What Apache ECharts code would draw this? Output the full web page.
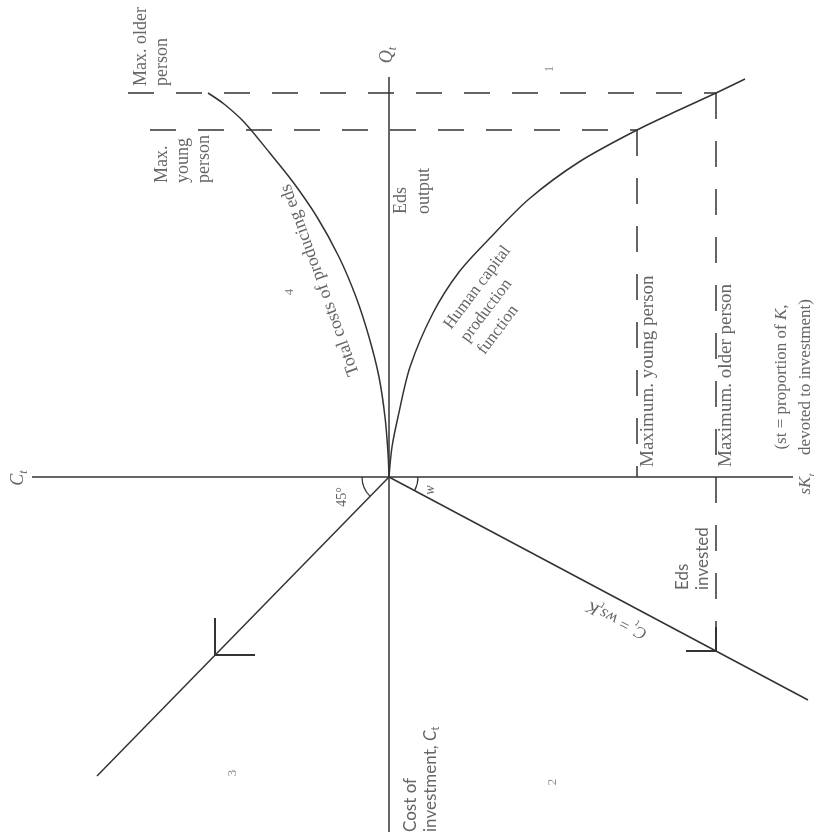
<!DOCTYPE html>
<html>
<head>
<meta charset="utf-8">
<script src="https://cdn.jsdelivr.net/npm/echarts@6/dist/echarts.min.js"></script>
<style>
  html, body { margin: 0; background: #fff; }
  #main { width: 814px; height: 838px; }
</style>
</head>
<body>
<div id="main"></div>
<script>
// four-quadrant diagram, origin at (0,0); units are arbitrary (y up)
const axisH = [[-357, 0], [404, 0]]
const axisV = [[0, 400], [0, -355]]

// quadrant 4: total costs of producing eds
const costCurve = [[0, 0], [-1, 24], [-4, 60], [-10, 100], [-20, 140], [-33, 180], [-50, 220], [-72, 260], [-96, 295], [-120, 325], [-145, 355], [-165, 373], [-181, 384]]
// quadrant 1: human capital production function
const capitalCurve = [[0, 0], [3, 30], [9, 60], [21, 110], [44, 164], [70, 205], [100, 238], [140, 278], [190, 315], [248, 347], [290, 367], [327, 384], [356, 398]]

// maxima (young / older person)
const youngQ = [[-239, 347], [248, 347]]
const olderQ = [[-261, 384], [327, 384]]
const youngV = [[248, 347], [248, 0]]
const olderV = [[327, 384], [327, -150]]

// quadrant 3: 45 degree line, quadrant 2: C = w s K
const line45 = [[0, 0], [-292, -299]]
const lineW = [[0, 0], [419, -223]]
const tick45 = [[-174, -141], [-174, -178], [-134, -178]]
const tickW = [[327, -150], [327, -174], [297, -174]]

const ink = '#333'
const grey = '#666'
const serif = '"Liberation Serif", serif'
const sans = 'Lato, "Open Sans", sans-serif'

const mkLine = (data, opts) => ({
  type: 'line',
  data: data,
  showSymbol: false,
  symbol: 'none',
  silent: true,
  animation: false,
  smooth: opts && opts.smooth ? opts.smooth : false,
  lineStyle: {
    color: ink,
    width: opts && opts.width ? opts.width : 1.5,
    type: opts && opts.dash ? [26, 22] : 'solid',
  },
})

const chart = echarts.init(document.getElementById('main'))
chart.setOption({
  backgroundColor: '#fff',
  animation: false,
  grid: { left: 0, right: 0, top: 0, bottom: 0 },
  xAxis: { type: 'value', min: -389, max: 425, show: false },
  yAxis: { type: 'value', min: -361, max: 477, show: false },
  series: [
    mkLine(axisH),
    mkLine(axisV),
    mkLine(costCurve, { smooth: 0.3 }),
    mkLine(capitalCurve, { smooth: 0.3 }),
    mkLine(youngQ, { dash: true }),
    mkLine(olderQ, { dash: true }),
    mkLine(youngV, { dash: true }),
    mkLine(olderV, { dash: true }),
    mkLine(line45),
    mkLine(lineW),
    mkLine(tick45, { width: 2 }),
    mkLine(tickW, { width: 2 }),
  ],
})

const px = (p) => chart.convertToPixel({ gridIndex: 0 }, p)
const deg = (d) => d * Math.PI / 180

const rich = (size) => ({
  i: { fontFamily: serif, fontStyle: 'italic', fontSize: size, lineHeight: 24, fill: grey },
  n: { fontFamily: serif, fontSize: size, lineHeight: 24, fill: grey },
  s: { fontFamily: serif, fontStyle: 'italic', fontSize: Math.round(size * 0.65), lineHeight: 12, verticalAlign: 'bottom', fill: grey },
})

const txt = (p, text, rot, o) => {
  const q = px(p)
  return {
    type: 'text',
    x: q[0],
    y: q[1],
    rotation: deg(rot),
    silent: true,
    style: {
      text: text,
      fill: o.color || grey,
      fontFamily: o.family || serif,
      fontSize: o.size || 18,
      fontStyle: o.italic ? 'italic' : 'normal',
      lineHeight: o.lh || 21,
      align: o.align || 'left',
      verticalAlign: o.valign || 'top',
      rich: o.rich,
    },
  }
}

const o = px([0, 0])
const a45 = Math.atan2(px(line45[1])[1] - o[1], px(line45[1])[0] - o[0])
const aW = Math.atan2(px(lineW[1])[1] - o[1], px(lineW[1])[0] - o[0])

chart.setOption({
  graphic: [
    { type: 'arc', silent: true, shape: { cx: o[0], cy: o[1], r: 27, startAngle: a45, endAngle: Math.PI, clockwise: true }, style: { stroke: ink, fill: null, lineWidth: 1.2 } },
    { type: 'arc', silent: true, shape: { cx: o[0], cy: o[1], r: 29, startAngle: 0, endAngle: aW, clockwise: true }, style: { stroke: ink, fill: null, lineWidth: 1.2 } },

    txt([-258, 391], 'Max. older\nperson', 90, {}),
    txt([-237, 294], 'Max.\nyoung\nperson', 90, {}),
    txt([-2, 422], '{i|Q}{s|t}', 90, { align: 'center', valign: 'middle', rich: rich(18) }),
    txt([1, 263], 'Eds\noutput', 90, { lh: 23 }),
    txt([-69, 197], 'Total costs of producing eds', 110, { align: 'center', valign: 'middle' }),
    txt([50, 156], 'Human capital\nproduction\nfunction', 53, { size: 17 }),
    txt([259, 10], 'Maximum. young person', 90, { valign: 'middle', size: 19 }),
    txt([337, 10], 'Maximum. older person', 90, { valign: 'middle', size: 19 }),
    txt([405, 100], '{n|(st = proportion of }{i|K}{n|,}\n{n|devoted to investment)}', 90, { align: 'center', valign: 'middle', lh: 20, rich: rich(17) }),
    txt([-371, -1], '{i|C}{s|t}', 90, { align: 'center', valign: 'middle', rich: rich(18) }),
    txt([417, -7], '{i|sK}{s|t}', 90, { align: 'center', valign: 'middle', rich: rich(17) }),
    txt([-47, -20], '45°', 90, { align: 'center', valign: 'middle', size: 14 }),
    txt([41, -13], 'w', 90, { align: 'center', valign: 'middle', size: 14, italic: true }),
    txt([12, -355], 'Cost of\ninvestment, {i|C}{s|t}', 90, { family: sans, size: 17, lh: 20, rich: {
      i: { fontFamily: sans, fontStyle: 'italic', fontSize: 17, lineHeight: 20, fill: grey },
      s: { fontFamily: sans, fontSize: 11, lineHeight: 12, verticalAlign: 'bottom', fill: grey },
    } }),
    txt([284, -113], 'Eds\ninvested', 90, { family: sans, size: 17, lh: 20 }),
    txt([228, -143], '{i|C}{s|t}{n| = }{i|ws}{s|t}{i|K}', 153, { align: 'center', valign: 'middle', rich: rich(17) }),

    txt([-99, 185], '4', 90, { align: 'center', valign: 'middle', size: 13, color: '#888' }),
    txt([161, 408], '1', 90, { align: 'center', valign: 'middle', size: 13, color: '#888' }),
    txt([-156, -296], '3', 90, { align: 'center', valign: 'middle', size: 13, color: '#888' }),
    txt([164, -305], '2', 90, { align: 'center', valign: 'middle', size: 13, color: '#888' }),
  ],
})
</script>
</body>
</html>
